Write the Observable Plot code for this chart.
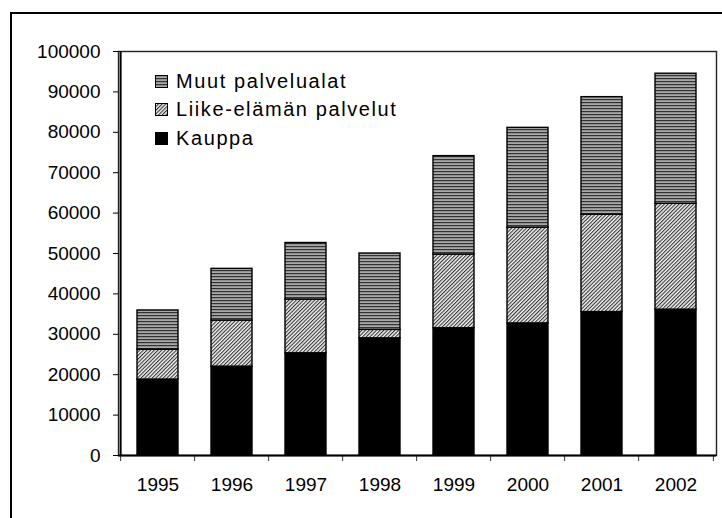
<!DOCTYPE html>
<html>
<head>
<meta charset="utf-8">
<script src="https://cdn.jsdelivr.net/npm/d3@7"></script>
<script src="https://cdn.jsdelivr.net/npm/@observablehq/plot@0.6"></script>
<style>
  html, body { margin: 0; padding: 0; background: white; }
  #wrap { position: relative; width: 722px; height: 518px; overflow: hidden; font-family: "Liberation Sans", Arial, sans-serif; }
  #border { position: absolute; left: 10px; top: 12px; width: 800px; height: 600px; border: 2px solid black; }
  #chart { position: absolute; left: 0; top: 0; }
  #legend { position: absolute; left: 155px; top: 67px; font-size: 20px; letter-spacing: 1.6px; color: black; }
  .row { display: flex; align-items: center; height: 28.5px; }
  .row svg { margin-right: 8px; }
</style>
</head>
<body>
<div id="wrap">
  <div id="border"></div>
  <div id="chart"></div>
  <div id="legend"></div>
</div>
<script>
const years = ["1995", "1996", "1997", "1998", "1999", "2000", "2001", "2002"];
const series = ["Kauppa", "Liike-elämän palvelut", "Muut palvelualat"];
const kauppa = [18800, 22000, 25300, 29000, 31500, 32700, 35500, 36100];
const liike  = [7400, 11400, 13300, 2100, 18250, 23700, 24100, 26200];
const muut   = [9700, 12800, 14000, 18900, 24350, 24700, 29100, 32200];
const yTicks = [0, 10000, 20000, 30000, 40000, 50000, 60000, 70000, 80000, 90000, 100000];
const fills = ["black", "url(#pLiike)", "url(#pMuut)"];

const valuesBySeries = [kauppa, liike, muut];
const rows = [];
series.forEach((s, si) => years.forEach((y, yi) => rows.push({year: y, series: s, value: valuesBySeries[si][yi]})));

const W = 722, H = 518, mL = 118, mR = 6, mT = 51, mB = 63;
const step = (W - mL - mR) / years.length;

const plot = Plot.plot({
  width: W, height: H,
  marginLeft: mL, marginRight: mR, marginTop: mT, marginBottom: mB,
  style: {fontFamily: "'Liberation Sans', Arial, sans-serif", fontSize: "19px", color: "black", background: "transparent"},
  x: {domain: years, paddingInner: 0.44, paddingOuter: 0.22, label: null, axis: null},
  y: {domain: [0, 100000], label: null, axis: null},
  color: {domain: series, range: fills},
  marks: [
    Plot.frame({stroke: "#222", strokeWidth: 1.4}),
    Plot.barY(rows, {x: "year", y: "value", fill: "series", stroke: "black", strokeWidth: 1.4}),
    Plot.axisY({ticks: yTicks, tickSize: 5, tickPadding: 13, tickFormat: d => String(d), fontSize: 19, label: null, letterSpacing: 0.6}),
    Plot.axisX({tickSize: 0, tickPadding: 22, fontSize: 19, label: null, letterSpacing: 0.4}),
    Plot.ruleX(years, {x: d => d, y: 0, dx: -step / 2, insetBottom: -6, stroke: "#333"}),
    Plot.ruleX([years[years.length - 1]], {x: d => d, y: 0, dx: step / 2, insetBottom: -6, stroke: "#333"}),
    Plot.ruleX([years[0]], {x: d => d, dx: -step / 2, stroke: "black", strokeWidth: 2}),
    Plot.ruleY([0], {stroke: "black", strokeWidth: 2})
  ]
});

const svg = d3.select(plot);
const defs = svg.insert("defs", ":first-child");
const pm = defs.append("pattern").attr("id", "pMuut").attr("patternUnits", "userSpaceOnUse").attr("width", 4).attr("height", 3);
pm.append("rect").attr("width", 4).attr("height", 3).attr("fill", "#a8a8a8");
pm.append("rect").attr("width", 4).attr("height", 1.2).attr("fill", "#333");
const pl = defs.append("pattern").attr("id", "pLiike").attr("patternUnits", "userSpaceOnUse").attr("width", 2.6).attr("height", 2.6).attr("patternTransform", "rotate(45)");
pl.append("rect").attr("width", 2.6).attr("height", 2.6).attr("fill", "#f4f4f4");
pl.append("rect").attr("width", 1.1).attr("height", 2.6).attr("fill", "#333");

document.getElementById("chart").appendChild(plot);

const legend = d3.select("#legend");
const legendOrder = [2, 1, 0];
legendOrder.forEach(i => {
  const row = legend.append("div").attr("class", "row");
  const s = row.append("svg").attr("width", 13).attr("height", 13);
  s.append("rect").attr("x", 0.5).attr("y", 0.5).attr("width", 12).attr("height", 12)
    .attr("fill", fills[i]).attr("stroke", "black").attr("stroke-width", 1);
  row.append("span").text(series[i]);
});
</script>
</body>
</html>
